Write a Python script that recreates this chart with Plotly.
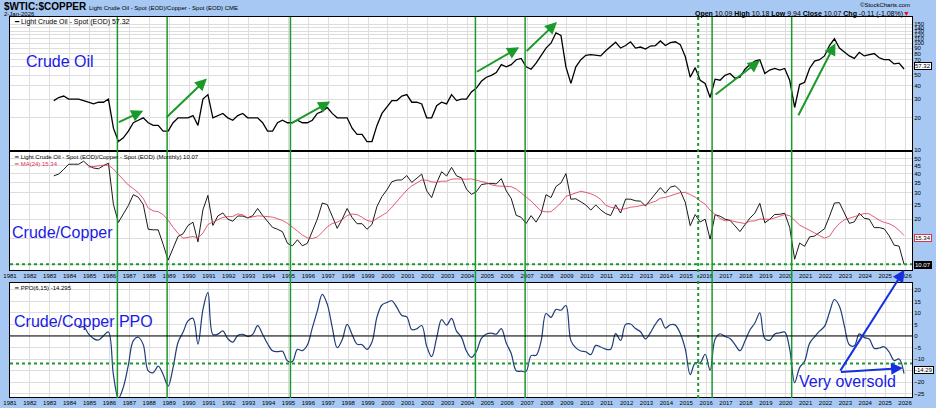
import plotly.graph_objects as go
import pandas as pd
import numpy as np

years = list(range(1983, 2026))
oil = [29,31,32,30, 30,30,29,28, 27,28,28,30, 16,12,13,15, 18,19,20,18, 17,17,15,15,
       18,20,20,20, 21,17,30,33, 20,21,22,20, 19,21,22,20, 20,20,18,15, 15,18,19,18,
       18,19,18,18, 19,22,23,25, 22,20,20,20, 16,14,14,12, 12,17,22,25, 29,29,32,33,
       28,28,27,20, 20,26,28,27, 33,29,30,30, 35,38,44,48, 50,53,63,60, 63,70,72,60,
       57,65,76,90, 100,125,118,60, 42,60,70,77, 78,77,76,85, 93,102,90,95, 103,90,92,88,
       94,95,105,95, 101,103,97,75, 48,59,45,42, 31,46,45,50, 52,47,48,57, 63,68,70,52,
       56,58,56,58, 45,25,41,43, 58,68,70,76, 95,110,90,82, 76,72,82,76, 78,80,73,70,
       70,64,65,57.32]
copper = [0.75,0.78,0.75,0.65, 0.65,0.65,0.60,0.62, 0.62,0.65,0.62,0.64, 0.64,0.63,0.60,0.61,
          0.62,0.68,0.80,1.05, 1.00,1.00,1.10,1.40, 1.40,1.30,1.25,1.10, 1.10,1.20,1.30,1.15,
          1.10,1.00,1.00,1.00, 0.98,1.00,1.05,0.98, 0.95,0.85,0.85,0.78, 0.85,1.05,1.15,1.30,
          1.35,1.30,1.35,1.30, 1.15,1.10,0.90,1.00, 1.05,1.15,1.00,0.85, 0.78,0.75,0.75,0.70,
          0.65,0.70,0.78,0.80, 0.82,0.80,0.88,0.85, 0.80,0.75,0.68,0.65, 0.72,0.75,0.68,0.70,
          0.75,0.75,0.80,0.95, 1.20,1.25,1.30,1.40, 1.45,1.55,1.70,1.95, 2.30,3.30,3.50,3.20,
          2.70,3.40,3.50,3.10, 3.60,3.80,3.40,1.50, 1.55,2.20,2.70,3.10, 3.40,3.10,3.30,3.90,
          4.40,4.10,4.10,3.50, 3.80,3.40,3.50,3.60, 3.50,3.20,3.25,3.20, 3.10,3.10,3.15,2.90,
          2.65,2.75,2.35,2.10, 2.10,2.15,2.15,2.50, 2.65,2.60,2.90,3.10, 3.10,3.10,2.75,2.75,
          2.80,2.70,2.60,2.65, 2.55,2.30,2.95,3.25, 3.80,4.40,4.30,4.40, 4.55,4.30,3.50,3.70,
          4.05,3.75,3.75,3.75, 3.90,4.55,4.15,4.05, 4.50,4.75,4.90,5.69]
dates = [y + q*0.25 + 0.2 for y in years for q in range(4)]

signal_lines = [1986.4, 1988.9, 1995.1, 2004.4, 2006.9, 2016.3, 2020.3]
dotted_line = 2015.6
oversold_ratio = 10.07
oversold_ppo = -12
green_arrows = [(1986.4,18,1987.7,23.3),(1988.8,19.6,1990.9,46.7),(1995.1,17.6,1997.1,28.4),
                (2004.4,53,2006.6,91.6),(2006.9,82,2008.5,158),(2016.4,32.3,2018.7,69),
                (2020.6,20.5,2022.5,100)]

s_oil = pd.Series(oil)
ratio = s_oil / pd.Series(copper)
ma = ratio.rolling(8).mean()
e_fast = ratio.ewm(span=2, adjust=False).mean()
e_slow = ratio.ewm(span=5, adjust=False).mean()
ppo = (e_fast - e_slow) / e_slow * 100
ppo[:5] = np.nan

fig = go.Figure()
fig.add_trace(go.Scatter(x=dates, y=oil, mode='lines', line=dict(color='black', width=1.3), xaxis='x', yaxis='y'))
fig.add_trace(go.Scatter(x=dates, y=ratio, mode='lines', line=dict(color='black', width=0.9), xaxis='x2', yaxis='y2'))
fig.add_trace(go.Scatter(x=dates, y=ma, mode='lines', line=dict(color='#e03050', width=0.8), xaxis='x2', yaxis='y2'))
fig.add_trace(go.Scatter(x=dates, y=ppo, mode='lines', line=dict(color='#1f3d7a', width=1.2, shape='spline'), xaxis='x3', yaxis='y3'))

H = 381.0
def dom(top, bot):
    return [(398-bot)/H, (398-top)/H]

yr = list(range(1981, 2027))
xcommon = dict(range=[1981, 2026.35], tickvals=yr, ticktext=[str(y) for y in yr], showgrid=True,
               gridcolor='#dddddd', gridwidth=0.5, tickfont=dict(size=6, color='black'),
               showline=True, linecolor='black', mirror=True, zeroline=False, ticks='', automargin=False)
ycommon = dict(side='right', showgrid=True, gridcolor='#dddddd', gridwidth=0.5,
               tickfont=dict(size=6, color='black'), showline=True, linecolor='black',
               mirror=True, zeroline=False, ticks='', automargin=False)
fig.update_layout(
    width=936, height=408, margin=dict(l=10, r=24, t=17, b=10, autoexpand=False),
    paper_bgcolor='#a6c8f2', plot_bgcolor='white', showlegend=False,
    xaxis=dict(**xcommon, anchor='y', showticklabels=False),
    xaxis2=dict(**xcommon, anchor='y2', matches='x'),
    xaxis3=dict(**xcommon, anchor='y3', matches='x'),
    yaxis=dict(**ycommon, type='log', range=[1.0, 2.245], domain=dom(17, 150), anchor='x',
               tickvals=[10,20,30,40,50,60,70,80,90,100,110,120,130,140,150]),
    yaxis2=dict(**ycommon, type='log', range=[0.965, 1.745], domain=dom(152, 270), anchor='x2',
                tickvals=[10,15,20,25,30,35,40,45,50]),
    yaxis3=dict(**ycommon, range=[-26.5, 23], domain=dom(283, 397), anchor='x3',
                tickvals=[-25,-20,-15,-10,-5,0,5,10,15,20]),
    font=dict(family='Arial, Liberation Sans, sans-serif'),
)

shapes = []
for xv in signal_lines:
    shapes.append(dict(type='line', xref='x', yref='paper', x0=xv, x1=xv, y0=0, y1=1,
                       line=dict(color='#1a9a2a', width=1.5)))
shapes.append(dict(type='line', xref='x', yref='paper', x0=dotted_line, x1=dotted_line, y0=0, y1=1,
                   line=dict(color='#1a9a2a', width=2, dash='dot')))
shapes.append(dict(type='line', xref='x2 domain', yref='y2', x0=0, x1=1, y0=oversold_ratio, y1=oversold_ratio,
                   line=dict(color='#1a9a2a', width=2, dash='dot')))
shapes.append(dict(type='line', xref='x3 domain', yref='y3', x0=0, x1=1, y0=oversold_ppo, y1=oversold_ppo,
                   line=dict(color='#1a9a2a', width=2, dash='dot')))
shapes.append(dict(type='line', xref='x3 domain', yref='y3', x0=0, x1=1, y0=0, y1=0,
                   line=dict(color='black', width=1)))
fig.update_layout(shapes=shapes)

ann = []
for (x0, y0, x1, y1) in green_arrows:
    ann.append(dict(x=x1, y=np.log10(y1), ax=x0, ay=np.log10(y0), xref='x', yref='y', axref='x', ayref='y',
                    showarrow=True, arrowhead=2, arrowsize=1.2, arrowwidth=2, arrowcolor='#1a9a2a', text=''))
for (x1, y1) in [(2025.97, 28.7), (2025.9, -13.9)]:
    ann.append(dict(x=x1, y=y1, ax=2022.7, ay=-15.7, xref='x3', yref='y3', axref='x3', ayref='y3',
                    showarrow=True, arrowhead=2, arrowsize=1.2, arrowwidth=2, arrowcolor='#1530e0', text=''))
def ptxt(x, y, t, size=7, color='black', xa='left', ya='middle', **kw):
    ann.append(dict(x=(x-10)/902, y=(398-y)/381, xref='paper', yref='paper', text=t, showarrow=False,
                    xanchor=xa, yanchor=ya, font=dict(size=size, color=color), **kw))
ptxt(2, 7, '<b>$WTIC:$COPPER</b> <span style="font-size:6px">Light Crude Oil - Spot (EOD)/Copper - Spot (EOD) CME</span>', size=10)
ptxt(2, 14, '2-Jan-2026', size=6)
ptxt(912, 5, '©StockCharts.com', size=6, xa='right')
ptxt(912, 14, '<b>Open</b> 10.09 <b>High</b> 10.18 <b>Low</b> 9.94 <b>Close</b> 10.07 <b>Chg</b> -0.11 (-1.08%)<span style="color:red">▼</span>', size=7, xa='right')
ptxt(12, 22, '━ Light Crude Oil - Spot (EOD) 57.32', size=7)
ptxt(12, 157, '━ Light Crude Oil - Spot (EOD)/Copper - Spot (EOD) (Monthly) 10.07', size=6)
ptxt(12, 164, '━ MA(24) 15.34', size=6, color='#e03050')
ptxt(12, 288, '━ PPO(6,15) -14.295', size=6)
ptxt(24, 61, 'Crude Oil', size=16, color='#1a1ae6')
ptxt(10, 232, 'Crude/Copper', size=16, color='#1a1ae6')
ptxt(12, 321, 'Crude/Copper PPO', size=16, color='#1a1ae6')
ptxt(797, 381, 'Very oversold', size=16, color='#1a1ae6')
ptxt(914, 66, '57.32', size=6, bordercolor='black', borderwidth=1, bgcolor='white', borderpad=0)
ptxt(914, 238, '15.34', size=6, bordercolor='#e03050', borderwidth=1, bgcolor='white', borderpad=0)
ptxt(914, 265, '10.07', size=6, color='white', bordercolor='black', borderwidth=1, bgcolor='black', borderpad=0)
ptxt(914, 370, '-14.29', size=6, bordercolor='black', borderwidth=1, bgcolor='white', borderpad=0)
fig.update_layout(annotations=ann)
fig.write_html('out.html', config={'displayModeBar': False},
               post_script="document.body.style.margin='0';document.body.style.overflow='hidden';")
